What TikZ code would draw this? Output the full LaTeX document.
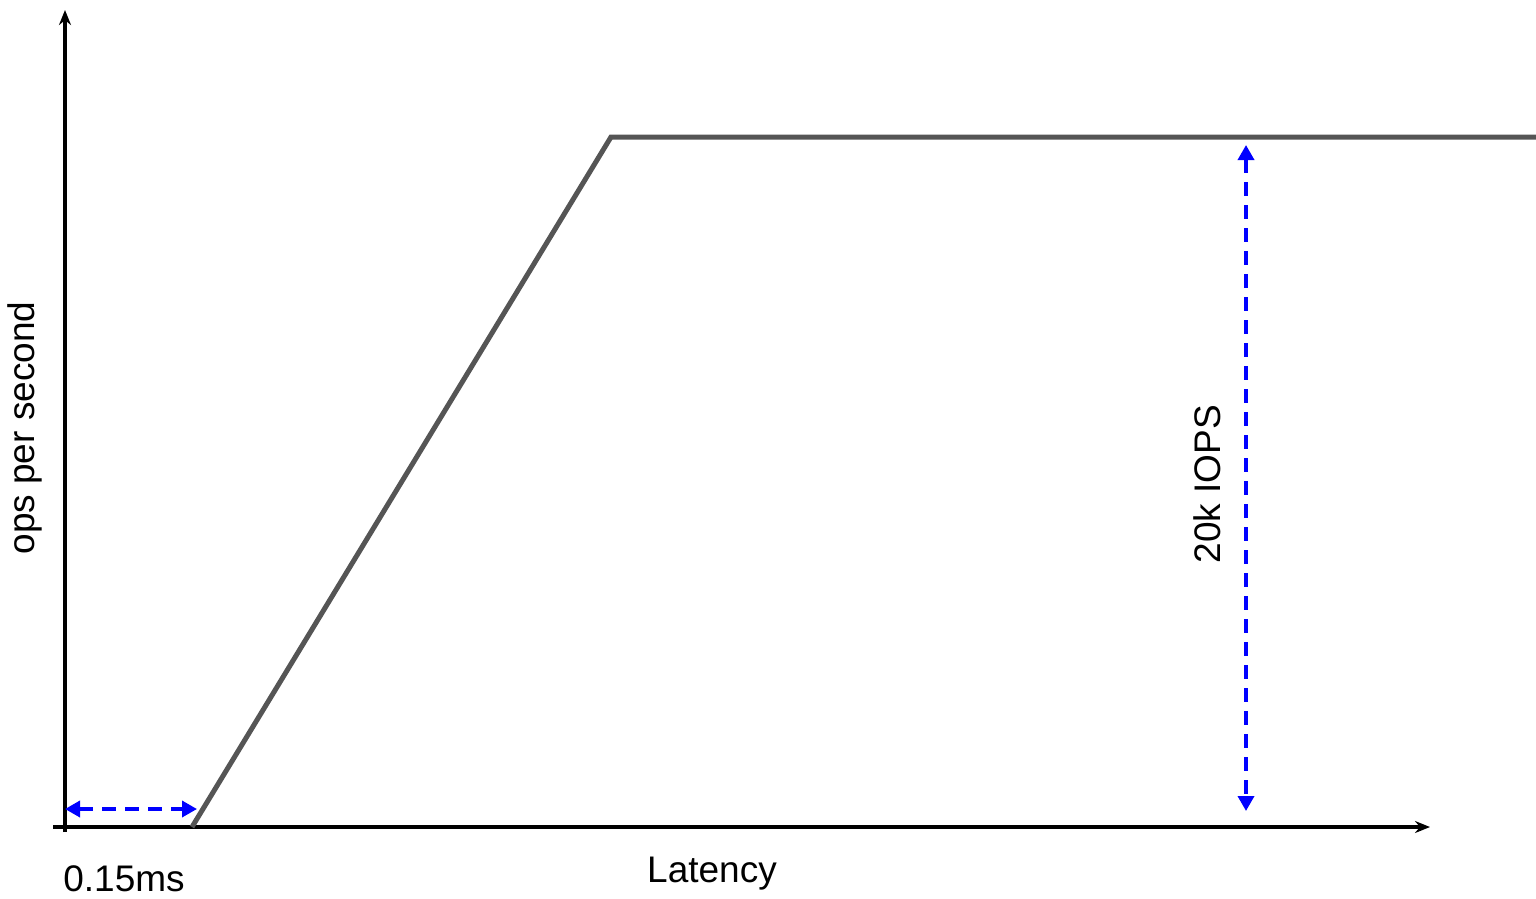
\documentclass[tikz,border=0pt]{standalone}
\usepackage{fontspec}
\setmainfont{Liberation Sans}
\usetikzlibrary{arrows.meta}
\definecolor{curvegray}{HTML}{555555}
\definecolor{dimblue}{HTML}{0000FF}
\tikzset{
  axis/.style={line width=3.5pt, -{Stealth[length=15pt,width=12pt]}},
  curve/.style={line width=5pt, curvegray, line join=miter},
  dim/.style={line width=3.5pt, dimblue, dash pattern=on 14pt off 9pt, {Triangle[length=15pt,width=16pt]}-{Triangle[length=15pt,width=16pt]}},
  lbl/.style={font=\fontsize{37}{44}\selectfont, inner sep=0pt}
}
\begin{document}
\begin{tikzpicture}[x=1pt,y=-1pt]
\useasboundingbox (0,0) rectangle (1536,898);
% axes
\coordinate (ybot) at (65,832);
\coordinate (ytop) at (65,10);
\coordinate (xl) at (53,827);
\coordinate (xr) at (1430,827);
\draw[axis] (ybot) -- (ytop);
\draw[axis] (xl) -- (xr);
% curve
\coordinate (c0) at (192,827);
\coordinate (c1) at (611,137);
\coordinate (c2) at (1536,137);
\draw[curve] (c0) -- (c1) -- (c2);
% dimensions
\coordinate (h0) at (65,809);
\coordinate (h1) at (197,809);
\draw[dim] (h0) -- (h1);
\coordinate (v0) at (1246,145);
\coordinate (v1) at (1246,811);
\draw[dim] (v0) -- (v1);
% labels
\node[lbl] (t015) at (124,879) {0.15ms};
\node[lbl] (tlat) at (712,874) {Latency};
\node[lbl, rotate=90] (tops) at (25,428) {ops per second};
\node[lbl, rotate=90] (tiops) at (1207,484) {20k IOPS};
\end{tikzpicture}
\end{document}
